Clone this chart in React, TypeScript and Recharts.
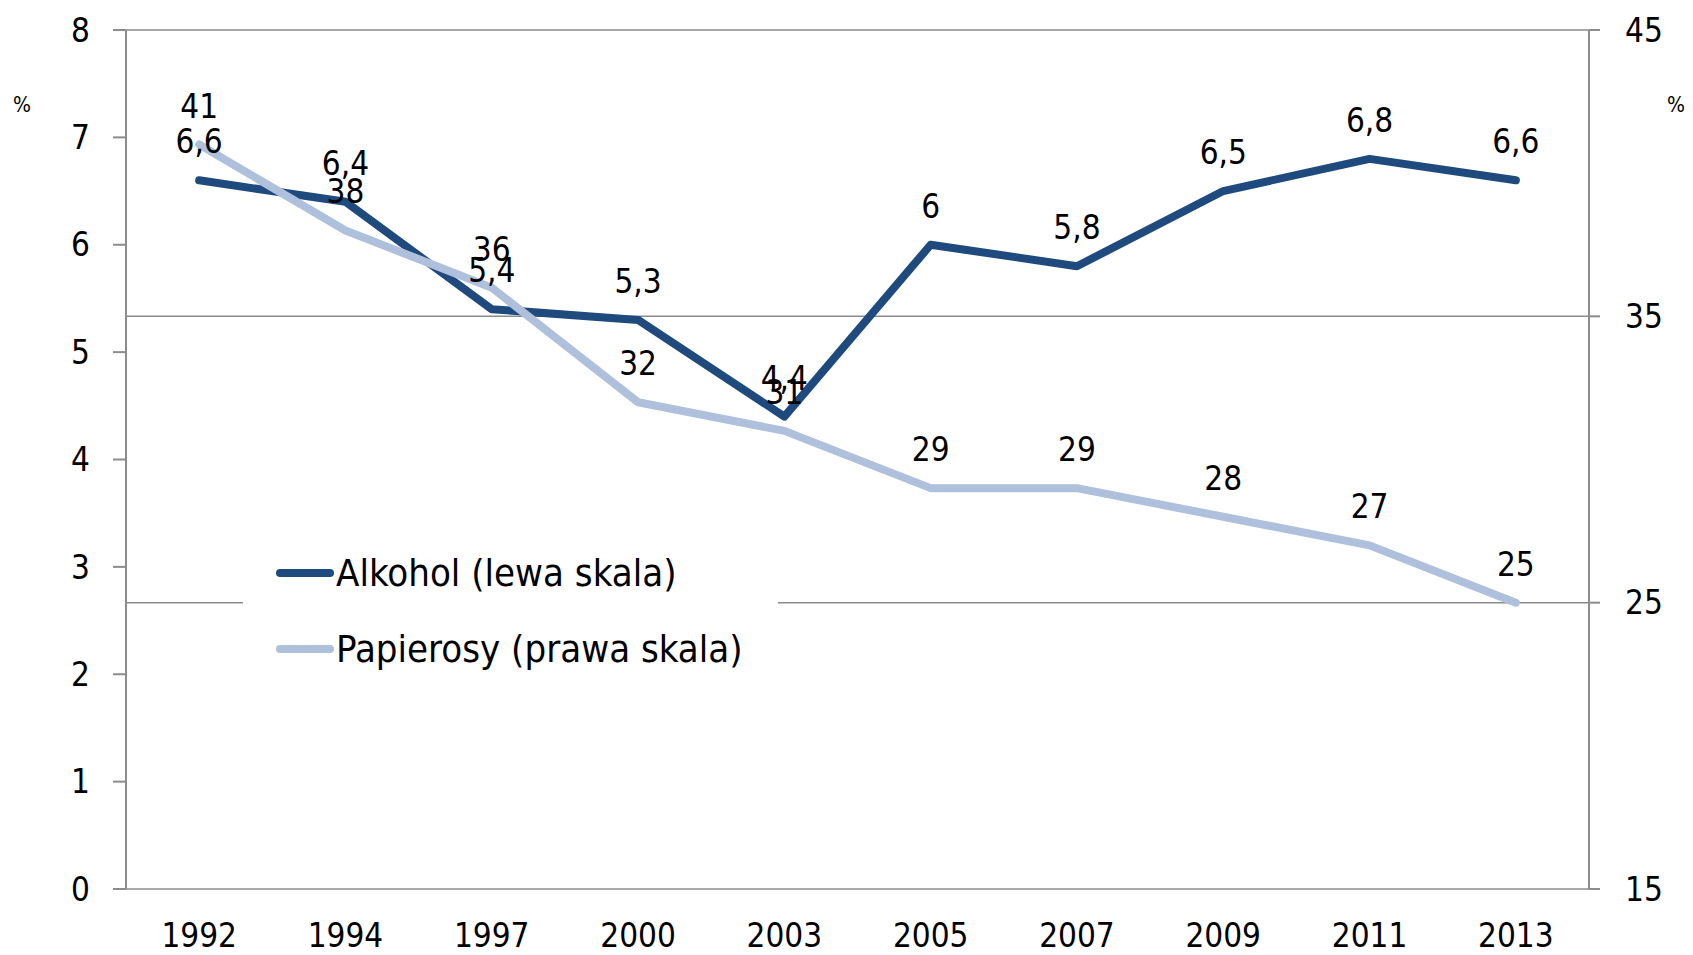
import { LineChart, Line, XAxis, YAxis, CartesianGrid, Legend, LabelList } from 'recharts';

const years = ['1992', '1994', '1997', '2000', '2003', '2005', '2007', '2009', '2011', '2013'];
const alkohol = [6.6, 6.4, 5.4, 5.3, 4.4, 6, 5.8, 6.5, 6.8, 6.6];
const papierosy = [41, 38, 36, 32, 31, 29, 29, 28, 27, 25];
const leftTicks = [0, 1, 2, 3, 4, 5, 6, 7, 8];
const rightTicks = [15, 25, 35, 45];
const boundaryTicks = [0, 1, 2, 3, 4, 5, 6, 7, 8, 9, 10];

const data = years.map((year, i) => ({
  year,
  pos: i + 0.5,
  alkohol: alkohol[i],
  papierosy: papierosy[i],
}));

const FONT = "'DejaVu Sans Condensed', 'DejaVu Sans', sans-serif";
const DARK = '#1F4A7E';
const LIGHT = '#AEC0DB';
const GRID = '#8C8C8C';

const textStyle = { fontFamily: FONT, fontStretch: 'condensed' };

// polish decimal comma
const fmt = (v: number | string) => String(v).replace('.', ',');

const LegendBox = ({ payload }: { payload?: Array<{ value: string; color: string }> }) => (
  <div style={{ background: '#fff', width: 535, height: 140, position: 'relative', ...textStyle }}>
    {(payload || []).map((entry, i) => (
      <div
        key={entry.value}
        style={{
          position: 'absolute',
          left: 0,
          top: 3 + i * 76,
          height: 60,
          display: 'flex',
          alignItems: 'center',
        }}
      >
        <svg width={93} height={20} style={{ display: 'block' }}>
          <line x1={37} y1={10} x2={87} y2={10} stroke={entry.color} strokeWidth={8} strokeLinecap="round" />
        </svg>
        <span style={{ fontSize: 38, color: '#000', whiteSpace: 'nowrap', lineHeight: '60px' }}>{entry.value}</span>
      </div>
    ))}
  </div>
);

export default function App() {
  return (
    <div style={{ position: 'absolute', left: 0, top: 0 }}>
      <LineChart width={1693} height={955} data={data} margin={{ top: 30, right: 0, bottom: 0, left: 0 }}>
        <CartesianGrid yAxisId="right" vertical={false} stroke={GRID} strokeWidth={1.5} />
        <XAxis
          xAxisId="bounds"
          dataKey="pos"
          type="number"
          domain={[0, 10]}
          ticks={boundaryTicks}
          interval={0}
          allowDataOverflow
          height={0}
          tickSize={11}
          stroke={GRID}
          tick={() => <g />}
          axisLine={{ stroke: GRID, strokeWidth: 2 }}
          tickLine={{ stroke: GRID, strokeWidth: 2 }}
        />
        <XAxis
          xAxisId="cat"
          dataKey="year"
          scale="band"
          height={66}
          interval={0}
          axisLine={false}
          tickLine={false}
          tickSize={0}
          tickMargin={35}
          tick={{ fill: '#000', fontSize: 33, ...textStyle }}
        />
        <YAxis
          yAxisId="left"
          width={126}
          domain={[0, 8]}
          ticks={leftTicks}
          interval={0}
          tickSize={13}
          tickMargin={23}
          axisLine={{ stroke: GRID, strokeWidth: 2 }}
          tickLine={{ stroke: GRID, strokeWidth: 2 }}
          tick={{ fill: '#000', fontSize: 33, ...textStyle }}
          label={(props: { viewBox?: { x: number; y: number } }) => (
            <text
              x={(props.viewBox?.x ?? 0) + 22}
              y={(props.viewBox?.y ?? 0) + 82}
              textAnchor="middle"
              fontSize={21}
              style={textStyle}
              fill="#000"
            >
              %
            </text>
          )}
        />
        <YAxis
          yAxisId="right"
          orientation="right"
          width={104}
          domain={[15, 45]}
          ticks={rightTicks}
          interval={0}
          tickSize={11}
          tickMargin={25}
          axisLine={{ stroke: GRID, strokeWidth: 2 }}
          tickLine={{ stroke: GRID, strokeWidth: 2 }}
          tick={{ fill: '#000', fontSize: 33, ...textStyle }}
          label={(props: { viewBox?: { x: number; y: number } }) => (
            <text
              x={(props.viewBox?.x ?? 0) + 87}
              y={(props.viewBox?.y ?? 0) + 82}
              textAnchor="middle"
              fontSize={21}
              style={textStyle}
              fill="#000"
            >
              %
            </text>
          )}
        />
        <Legend
          layout="horizontal"
          verticalAlign="middle"
          align="center"
          wrapperStyle={{ left: 243, top: 540, width: 535 }}
          content={(props) => <LegendBox payload={props.payload as Array<{ value: string; color: string }>} />}
        />
        <Line
          xAxisId="cat"
          yAxisId="left"
          dataKey="alkohol"
          name="Alkohol (lewa skala)"
          stroke={DARK}
          strokeWidth={8}
          strokeLinecap="round"
          strokeLinejoin="round"
          dot={false}
          activeDot={false}
          isAnimationActive={false}
        >
          <LabelList
            dataKey="alkohol"
            position="top"
            offset={27}
            formatter={fmt}
            style={{ fill: '#000', fontSize: 33, ...textStyle }}
          />
        </Line>
        <Line
          xAxisId="cat"
          yAxisId="right"
          dataKey="papierosy"
          name="Papierosy (prawa skala)"
          stroke={LIGHT}
          strokeWidth={8}
          strokeLinecap="round"
          strokeLinejoin="round"
          dot={false}
          activeDot={false}
          isAnimationActive={false}
        >
          <LabelList
            dataKey="papierosy"
            position="top"
            offset={27}
            formatter={fmt}
            style={{ fill: '#000', fontSize: 33, ...textStyle }}
          />
        </Line>
      </LineChart>
    </div>
  );
}
